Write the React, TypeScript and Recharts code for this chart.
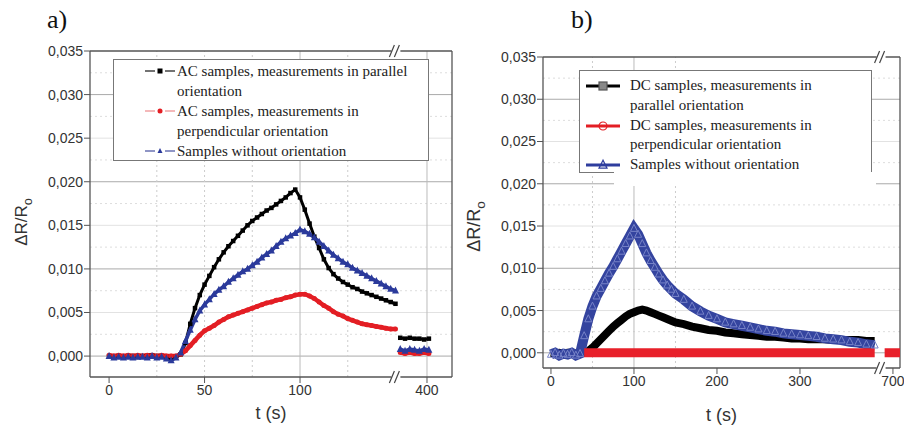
import React from "react";
import { LineChart, Line, XAxis, YAxis, ReferenceLine, ReferenceDot, Legend, Label } from "recharts";

// ---- panel a) AC samples, time axis broken between 150 s and 385 s ----
const tA = [
  0, 2.5, 5, 7.5, 10, 12.5, 15, 17.5, 20, 22.5, 25, 27.5, 30, 32.5, 35, 37.5, 40, 42.5, 45, 47.5,
  50, 52.5, 55, 57.5, 60, 62.5, 65, 67.5, 70, 72.5, 75, 77.5, 80, 82.5, 85, 87.5, 90, 92.5, 95, 97.5,
  100, 102.5, 105, 107.5, 110, 112.5, 115, 117.5, 120, 122.5, 125, 127.5, 130, 132.5, 135, 137.5, 140,
  142.5, 145, 147.5, 150,
];
const acParallel = [
  0.0, -0.0001, 0.0, -0.0001, 0.0, 0.0, -0.0001, 0.0, 0.0, 0.0001, 0.0, 0.0, -0.0001, -0.0002, -0.0001,
  0.0002, 0.0015, 0.0037, 0.0055, 0.007, 0.0082, 0.0092, 0.0102, 0.0111, 0.0119, 0.0126, 0.0132, 0.0138,
  0.0144, 0.015, 0.0155, 0.0159, 0.0163, 0.0167, 0.017, 0.0174, 0.0178, 0.0182, 0.0187, 0.0191,
  0.0182, 0.0168, 0.0152, 0.0137, 0.0124, 0.0111, 0.0101, 0.0094, 0.0089, 0.0085, 0.0082, 0.0079, 0.0077,
  0.0074, 0.0072, 0.007, 0.0068, 0.0066, 0.0064, 0.0062, 0.006,
];
const acPerpendicular = [
  0.0001, 0.0, 0.0001, 0.0, 0.0001, 0.0, 0.0001, 0.0, 0.0001, 0.0001, 0.0, 0.0001, 0.0, 0.0, 0.0,
  0.0002, 0.0006, 0.0012, 0.0018, 0.0024, 0.0029, 0.0032, 0.0035, 0.0039, 0.0042, 0.0045, 0.0047, 0.0049,
  0.0051, 0.0053, 0.0055, 0.0057, 0.0059, 0.0061, 0.0062, 0.0064, 0.0065, 0.0067, 0.0068, 0.007,
  0.0071, 0.0071, 0.0069, 0.0066, 0.0062, 0.0058, 0.0055, 0.0051, 0.0048, 0.0046, 0.0043, 0.0041, 0.0039,
  0.0037, 0.0036, 0.0035, 0.0034, 0.0033, 0.0032, 0.0031, 0.0031,
];
const acNoOrientation = [
  0.0, -0.0002, -0.0001, -0.0002, -0.0001, -0.0002, -0.0001, -0.0001, -0.0002, 0.0, -0.0002, -0.0001,
  -0.0003, -0.0005, -0.0002,
  0.0004, 0.0017, 0.003, 0.0042, 0.0052, 0.0059, 0.0065, 0.0071, 0.0076, 0.008, 0.0085, 0.0089, 0.0093,
  0.0097, 0.01, 0.0104, 0.0108, 0.0113, 0.0117, 0.0121, 0.0126, 0.0131, 0.0135, 0.0138, 0.0141,
  0.0145, 0.0143, 0.014, 0.0136, 0.0131, 0.0126, 0.0121, 0.0116, 0.0112, 0.0108, 0.0105, 0.0101, 0.0098,
  0.0095, 0.0092, 0.0089, 0.0086, 0.0083, 0.008, 0.0077, 0.0075,
];
const tA2 = [386, 388.5, 391, 393.5, 396, 398.5, 401];
const acParallelEnd = [0.0021, 0.002, 0.0021, 0.002, 0.002, 0.0019, 0.002];
const acPerpendicularEnd = [0.0004, 0.0003, 0.0004, 0.0003, 0.0003, 0.0004, 0.0003];
const acNoOrientationEnd = [0.0008, 0.0006, 0.0008, 0.0007, 0.0006, 0.0008, 0.0007];

// ---- panel b) DC samples, time axis broken between 400 s and 690 s ----
const tB = [
  0, 5, 10, 15, 20, 25, 30, 35, 40, 45, 50, 55, 60, 65, 70, 75, 80, 85, 90, 95, 100, 105, 110, 115, 120,
  125, 130, 135, 140, 145, 150, 160, 170, 180, 190, 200, 210, 220, 230, 240, 250, 260, 270, 280, 290, 300,
  310, 320, 330, 340, 350, 360, 370, 380, 390,
];
const dcParallel = [
  0.0, -0.0001, 0.0, -0.0001, 0.0, 0.0, -0.0001, 0.0,
  0.0, 0.0002, 0.0006, 0.0011, 0.0016, 0.0021, 0.0026, 0.0031, 0.0035, 0.0039, 0.0043, 0.0046, 0.0048,
  0.005, 0.0051, 0.005, 0.0048, 0.0046, 0.0044, 0.0042, 0.004, 0.0038, 0.0036,
  0.0034, 0.0031, 0.0029, 0.0027, 0.0026, 0.0024, 0.0023, 0.0022, 0.0021, 0.002, 0.0019, 0.0019, 0.0018,
  0.0017, 0.0017, 0.0016, 0.0016, 0.0016, 0.0015, 0.0015, 0.0015, 0.0015, 0.0014, 0.0014,
];
const dcPerpendicular = [
  null, null, null, null, null, null, null, null,
  0, 0, 0, 0, 0, 0, 0, 0, 0, 0, 0, 0, 0, 0, 0, 0, 0, 0, 0, 0, 0, 0, 0,
  0, 0, 0, 0, 0, 0, 0, 0, 0, 0, 0, 0, 0, 0, 0, 0, 0, 0, 0, 0, 0, 0, 0, 0,
];
const dcNoOrientation = [
  -0.0002, 0.0, -0.0003, -0.0001, -0.0002, 0.0, -0.0003, -0.0001,
  0.002, 0.004, 0.0055, 0.0067, 0.0076, 0.0085, 0.0094, 0.0102, 0.0111, 0.012, 0.0129, 0.0138, 0.0147,
  0.014, 0.0129, 0.0118, 0.0109, 0.0101, 0.0093, 0.0086, 0.008, 0.0075, 0.007,
  0.0063, 0.0055, 0.0049, 0.0044, 0.004, 0.0036, 0.0034, 0.0032, 0.003, 0.0028, 0.0026, 0.0025, 0.0023,
  0.0022, 0.0021, 0.002, 0.0019, 0.0017, 0.0016, 0.0015, 0.0013, 0.0012, 0.001, 0.0009,
];
const tB2 = [690, 695, 700, 705, 710];
const dcPerpendicularEnd = [0, 0, 0, 0, 0];

const yTicks = [0, 0.005, 0.01, 0.015, 0.02, 0.025, 0.03, 0.035];
const xTicksA = [0, 50, 100, 400];
const xTicksB = [0, 100, 200, 300, 700];
const yGridMajor = [0, 0.01, 0.02, 0.03];
const yGridMinor = [0.005, 0.015, 0.025];
const yGridDotted = [0.0025, 0.0075, 0.0125, 0.0175, 0.0225, 0.0275, 0.0325];

const legendA = [
  { lines: ["AC samples, measurements in parallel", "orientation"], kind: "square", color: "#000", line: "#444" },
  { lines: ["AC samples, measurements in", "perpendicular orientation"], kind: "circle", color: "#e31e24", line: "#f0a0a2" },
  { lines: ["Samples without orientation"], kind: "triangle", color: "#2b3a9b", line: "#6a72b2" },
];
const legendB = [
  { lines: ["DC samples, measurements in", "parallel orientation"], kind: "square", color: "#000", line: "#000" },
  { lines: ["DC samples, measurements in", "perpendicular orientation"], kind: "circle", color: "#e31e24", line: "#e31e24" },
  { lines: ["Samples without orientation"], kind: "triangle", color: "#2e3d9e", line: "#2e3d9e" },
];

const SANS = "'Liberation Sans', Arial, Helvetica, sans-serif";
const SERIF = "'Liberation Serif', 'Times New Roman', serif";

// broken axis: real time -> position on the drawn axis
const brkA = { cut: 300, shift: 233.5, mark: 151 };
const brkB = { cut: 500, shift: 288, mark: 399.5 };
const toAxis = (b, t) => (t > b.cut ? t - b.shift : t);
const fromAxis = (b, d) => Math.round(d > b.mark ? d + b.shift : d);

const series = (b, ts, vs, ts2?, vs2?) => {
  const first = ts.map((t, i) => ({ x: toAxis(b, t), y: vs[i] }));
  if (!ts2) return first;
  const second = ts2.map((t, i) => ({ x: toAxis(b, t), y: vs2[i] }));
  return [...first, { x: b.mark, y: null }, ...second];
};

const fmtY = (v) => v.toFixed(3).replace(".", ",");

const Marker = ({ kind, cx, cy, size, fill, stroke, sw = 1 }) => {
  if (kind === "square")
    return <rect x={cx - size / 2} y={cy - size / 2} width={size} height={size} fill={fill} stroke={stroke} strokeWidth={sw} />;
  if (kind === "circle") return <circle cx={cx} cy={cy} r={size / 2} fill={fill} stroke={stroke} strokeWidth={sw} />;
  return (
    <polygon
      points={`${cx},${cy - size * 0.6} ${cx - size / 2},${cy + size * 0.4} ${cx + size / 2},${cy + size * 0.4}`}
      fill={fill}
      stroke={stroke}
      strokeWidth={sw}
    />
  );
};

const dotOf = (kind, size, fill, stroke, sw = 1) => (p) =>
  p.cy == null || p.payload?.y == null ? (
    <g key={`n${p.index}`} />
  ) : (
    <Marker key={`m${p.index}`} kind={kind} cx={p.cx} cy={p.cy} size={size} fill={fill} stroke={stroke} sw={sw} />
  );

const BreakMark = (p) => (
  <g>
    <rect x={p.cx - 6} y={p.cy - 2} width={9} height={4} fill="#fff" />
    <line x1={p.cx - 8} y1={p.cy + 6} x2={p.cx - 3} y2={p.cy - 6} stroke="#444" strokeWidth={1.2} />
    <line x1={p.cx - 3} y1={p.cy + 6} x2={p.cx + 2} y2={p.cy - 6} stroke="#444" strokeWidth={1.2} />
  </g>
);

const yTitle = (dx, dy, size) => (props) => {
  const vb = props.viewBox;
  const x = vb.x + dx;
  const y = vb.y + vb.height / 2 + dy;
  return (
    <text transform={`translate(${x},${y}) rotate(-90)`} textAnchor="middle" fontSize={size} fill="#333" fontFamily={SANS}>
      ΔR/R
      <tspan fontSize={size * 0.75} dy={size * 0.3}>o</tspan>
    </text>
  );
};

const xTitle = (dy) => (props) => {
  const vb = props.viewBox;
  return (
    <text x={vb.x + vb.width / 2} y={vb.y + dy} textAnchor="middle" fontSize={18} fill="#333" fontFamily={SANS}>
      t (s)
    </text>
  );
};

const LegendBox = ({ items, box, textX, symX, symW, padTop, lineH, thick }) => {
  let row = 0;
  return (
    <div
      style={{
        position: "relative",
        width: box.w,
        height: box.h,
        boxSizing: "border-box",
        border: "1px solid #777",
        background: "#fff",
        fontFamily: SERIF,
        fontSize: 15,
        color: "#222",
      }}
    >
      {box.extra && (
        <div style={{ position: "absolute", left: box.extra.x, top: box.h - 2, width: box.extra.w, height: box.extra.h, background: "#fff" }} />
      )}
      {items.map((it, i) => {
        const start = row;
        row += it.lines.length;
        const cy = padTop + start * lineH + lineH / 2;
        return (
          <React.Fragment key={i}>
            <svg style={{ position: "absolute", left: symX, top: cy - 8 }} width={symW} height={16}>
              <line x1={0} y1={8} x2={symW} y2={8} stroke={it.line} strokeWidth={thick ? 3 : 1.5} />
              {thick ? (
                <Marker kind={it.kind} cx={symW / 2} cy={8} size={8} fill={it.kind === "square" ? "#888" : "none"} stroke={it.kind === "square" ? "#555" : it.color} sw={1.2} />
              ) : (
                <>
                  <rect x={symW / 2 - 5} y={4} width={10} height={8} fill="#fff" />
                  <Marker kind={it.kind} cx={symW / 2} cy={8} size={5} fill={it.color} stroke="none" />
                </>
              )}
            </svg>
            {it.lines.map((ln, j) => (
              <div
                key={j}
                style={{ position: "absolute", left: textX, top: padTop + (start + j) * lineH, lineHeight: `${lineH}px`, whiteSpace: "nowrap" }}
              >
                {ln}
              </div>
            ))}
          </React.Fragment>
        );
      })}
    </div>
  );
};

const tickStyle = { fontSize: 14, fill: "#333", fontFamily: SANS };
const AXIS = "#555";

const grid = (xSolid, xDotted) => [
  ...yGridDotted.map((v) => <ReferenceLine key={`yd${v}`} y={v} stroke="#ddd" strokeDasharray="2 3" />),
  ...yGridMinor.map((v) => <ReferenceLine key={`ym${v}`} y={v} stroke="#e2e2e2" />),
  ...yGridMajor.map((v) => <ReferenceLine key={`yM${v}`} y={v} stroke="#aaa" />),
  ...xDotted.map((v) => <ReferenceLine key={`xd${v}`} x={v} stroke="#ccc" strokeDasharray="2 3" />),
  ...xSolid.map((v) => <ReferenceLine key={`xs${v}`} x={v} stroke="#bbb" />),
];

const Y_MIN_A = -0.0024;
const Y_MIN_B = -0.0018;
const Y_MAX = 0.035;
const X_DOM_A = [-10, 179.6];
const X_DOM_B = [-9.6, 420.5];

const ChartA = () => (
  <LineChart width={456} height={426} margin={{ top: 51, right: 4, bottom: 19, left: 0 }}>
    {grid([100, toAxis(brkA, 400)], [25, 50, 75, 125])}
    <ReferenceLine y={Y_MAX} stroke={AXIS} strokeWidth={1.3} />
    <ReferenceLine x={X_DOM_A[1]} stroke={AXIS} strokeWidth={1.3} />
    <XAxis
      dataKey="x"
      type="number"
      domain={X_DOM_A}
      allowDataOverflow
      ticks={xTicksA.map((t) => toAxis(brkA, t))}
      tickFormatter={(d) => String(fromAxis(brkA, d))}
      tick={tickStyle}
      height={30}
      axisLine={{ stroke: AXIS, strokeWidth: 1.3 }}
      tickLine={{ stroke: AXIS }}
    >
      <Label content={xTitle(42)} />
    </XAxis>
    <YAxis
      type="number"
      domain={[Y_MIN_A, Y_MAX]}
      allowDataOverflow
      ticks={yTicks}
      tickFormatter={fmtY}
      tick={tickStyle}
      tickMargin={1}
      width={90}
      axisLine={{ stroke: AXIS, strokeWidth: 1.3 }}
      tickLine={{ stroke: AXIS }}
    >
      <Label content={yTitle(27, 8, 17)} />
    </YAxis>
    <Line
      data={series(brkA, tA, acParallel, tA2, acParallelEnd)}
      dataKey="y"
      stroke="#000"
      strokeWidth={3}
      dot={dotOf("square", 4.5, "#000", "none")}
      isAnimationActive={false}
      legendType="none"
    />
    <Line
      data={series(brkA, tA, acPerpendicular, tA2, acPerpendicularEnd)}
      dataKey="y"
      stroke="#e31e24"
      strokeWidth={4.5}
      dot={dotOf("circle", 5, "#e31e24", "none")}
      isAnimationActive={false}
      legendType="none"
    />
    <Line
      data={series(brkA, tA, acNoOrientation, tA2, acNoOrientationEnd)}
      dataKey="y"
      stroke="#2b3a9b"
      strokeWidth={3.5}
      dot={dotOf("triangle", 7, "#2b3a9b", "none")}
      isAnimationActive={false}
      legendType="none"
    />
    <ReferenceDot x={brkA.mark} y={Y_MIN_A} r={4} ifOverflow="visible" shape={BreakMark} />
    <ReferenceDot x={brkA.mark} y={Y_MAX} r={4} ifOverflow="visible" shape={BreakMark} />
    <Legend
      layout="horizontal"
      verticalAlign="middle"
      align="center"
      wrapperStyle={{ left: 113, top: 59, width: 316 }}
      content={() => (
        <LegendBox items={legendA} box={{ w: 316, h: 102 }} textX={63} symX={31} symW={30} padTop={1} lineH={20} thick={false} />
      )}
    />
  </LineChart>
);

const ChartB = () => (
  <LineChart width={452} height={426} margin={{ top: 57, right: 4, bottom: 28, left: 0 }}>
    {grid([100], [50, 150])}
    <ReferenceLine y={Y_MAX} stroke={AXIS} strokeWidth={1.3} />
    <ReferenceLine x={X_DOM_B[1]} stroke={AXIS} strokeWidth={1.3} />
    <XAxis
      dataKey="x"
      type="number"
      domain={X_DOM_B}
      allowDataOverflow
      ticks={xTicksB.map((t) => toAxis(brkB, t))}
      tickFormatter={(d) => String(fromAxis(brkB, d))}
      tick={tickStyle}
      height={30}
      axisLine={{ stroke: AXIS, strokeWidth: 1.3 }}
      tickLine={{ stroke: AXIS }}
    >
      <Label content={xTitle(53)} />
    </XAxis>
    <YAxis
      type="number"
      domain={[Y_MIN_B, Y_MAX]}
      allowDataOverflow
      ticks={yTicks}
      tickFormatter={fmtY}
      tick={tickStyle}
      tickMargin={1}
      width={91}
      axisLine={{ stroke: AXIS, strokeWidth: 1.3 }}
      tickLine={{ stroke: AXIS }}
    >
      <Label content={yTitle(28, 14, 18)} />
    </YAxis>
    <Line
      data={series(brkB, tB, dcParallel)}
      dataKey="y"
      stroke="#000"
      strokeWidth={8}
      dot={false}
      isAnimationActive={false}
      legendType="none"
    />
    <Line
      data={series(brkB, tB, dcNoOrientation)}
      dataKey="y"
      stroke="#34449f"
      strokeWidth={10}
      dot={dotOf("triangle", 7, "none", "#7783c8", 1)}
      isAnimationActive={false}
      legendType="none"
    />
    <Line
      data={series(brkB, tB, dcPerpendicular, tB2, dcPerpendicularEnd)}
      dataKey="y"
      stroke="#e8202a"
      strokeWidth={9}
      dot={false}
      isAnimationActive={false}
      legendType="none"
    />
    <ReferenceDot x={brkB.mark} y={Y_MIN_B} r={4} ifOverflow="visible" shape={BreakMark} />
    <ReferenceDot x={brkB.mark} y={Y_MAX} r={4} ifOverflow="visible" shape={BreakMark} />
    <Legend
      layout="horizontal"
      verticalAlign="middle"
      align="center"
      wrapperStyle={{ left: 127, top: 70, width: 293 }}
      content={() => (
        <LegendBox
          items={legendB}
          box={{ w: 293, h: 103, extra: { x: 34, w: 262, h: 14 } }}
          textX={50}
          symX={6}
          symW={34}
          padTop={5}
          lineH={19.8}
          thick
        />
      )}
    />
  </LineChart>
);

export default function App() {
  return (
    <div style={{ position: "absolute", left: 0, top: 0, width: 904, height: 426, background: "#fff", overflow: "hidden" }}>
      <svg style={{ position: "absolute", left: 0, top: 0 }} width={904} height={40}>
        <text x={47} y={28} fontSize={26} fontFamily={SERIF} fill="#111">a)</text>
        <text x={571} y={28} fontSize={26} fontFamily={SERIF} fill="#111">b)</text>
      </svg>
      <div style={{ position: "absolute", left: 0, top: 0 }}>
        <ChartA />
      </div>
      <div style={{ position: "absolute", left: 452, top: 0 }}>
        <ChartB />
      </div>
    </div>
  );
}
